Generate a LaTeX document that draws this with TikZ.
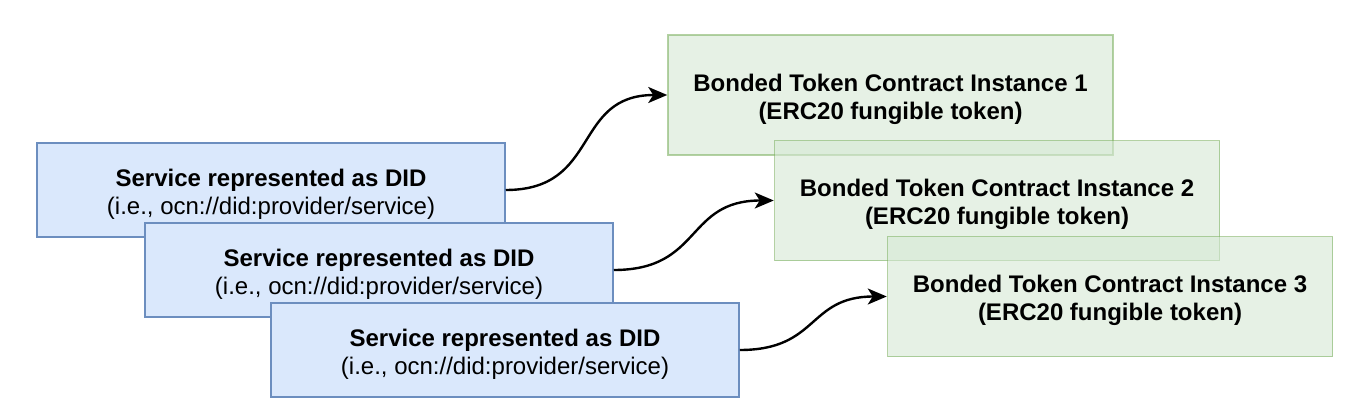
\documentclass[tikz,border=0pt]{standalone}
\usepackage{fontspec}
\setmainfont{Liberation Sans}
\usepackage{tikz}
\usetikzlibrary{arrows.meta}

\definecolor{didfill}{HTML}{DAE8FC}
\definecolor{didline}{HTML}{6C8EBF}
\definecolor{tokfill}{HTML}{D5E8D4}
\definecolor{tokline}{HTML}{82B366}

\newcommand{\toplift}{\rule{0pt}{26pt}}

\begin{document}
\begin{tikzpicture}[x=1pt,y=-1pt,
		servicebox/.style={draw=didline,fill=didfill,line width=1.5pt,
			minimum width=468pt,minimum height=94pt,inner sep=0pt,align=center,
			font=\fontsize{24}{28}\selectfont},
		tokenbox/.style={draw=tokline,fill=tokfill,line width=1.5pt,
			fill opacity=0.6,draw opacity=0.6,text opacity=1,
			minimum width=445pt,minimum height=120pt,inner sep=0pt,align=center,
			font=\fontsize{24}{28}\selectfont\bfseries},
		link/.style={-{Stealth[length=19pt,width=16pt,inset=5pt]},line width=2.4pt,
			looseness=1.3}]
		\useasboundingbox (0,0) rectangle (1368,420);
		% token contracts (see-through)
		\node[tokenbox] (tok1) at (890.5,95) {\toplift Bonded Token Contract Instance 1\\(ERC20 fungible token)};
		\node[tokenbox] (tok2) at (997,200.5) {\toplift Bonded Token Contract Instance 2\\(ERC20 fungible token)};
		\node[tokenbox] (tok3) at (1110,296.5) {\toplift Bonded Token Contract Instance 3\\(ERC20 fungible token)};
		% services as DIDs
		\node[servicebox] (svc1) at (271,190) {\toplift\textbf{Service represented as DID}\\(i.e., ocn://did:provider/service)};
		\node[servicebox] (svc2) at (379,270) {\toplift\textbf{Service represented as DID}\\(i.e., ocn://did:provider/service)};
		\node[servicebox] (svc3) at (505,350) {\toplift\textbf{Service represented as DID}\\(i.e., ocn://did:provider/service)};
		% links
		\draw[link] (svc1.east) to[out=0,in=180] (tok1.west);
		\draw[link] (svc2.east) to[out=0,in=180] (tok2.west);
		\draw[link] (svc3.east) to[out=0,in=180] (tok3.west);
	\end{tikzpicture}
\end{document}
